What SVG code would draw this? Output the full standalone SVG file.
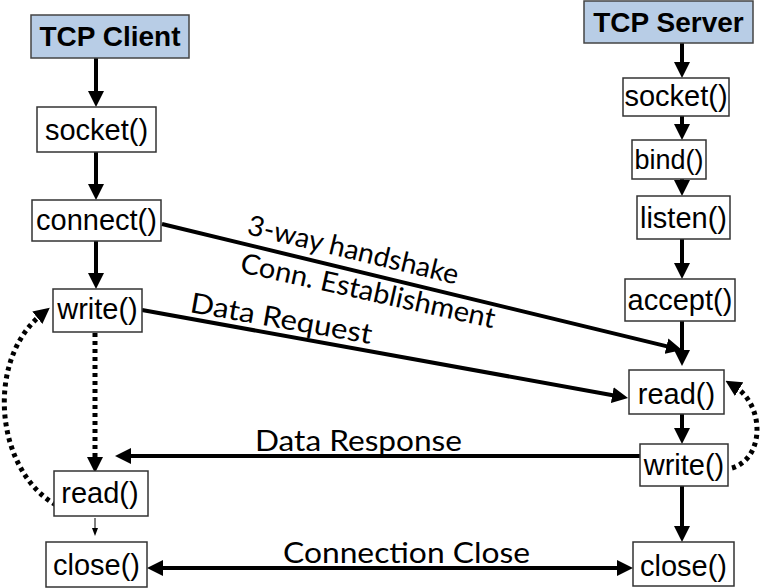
<svg xmlns="http://www.w3.org/2000/svg" width="760" height="588" viewBox="0 0 760 588">
<defs>
<style>
.box{fill:#fff;stroke:#333;stroke-width:1.5}
.hdr{fill:#b8cde6;stroke:#444;stroke-width:1.5}
.t{font-family:"Liberation Sans",Arial,sans-serif;font-size:29px;fill:#000;text-anchor:middle}
.h{font-family:"Liberation Sans",Arial,sans-serif;font-size:28px;font-weight:bold;fill:#000;text-anchor:middle}
.lbl{font-family:Lato,"Open Sans",sans-serif;font-size:28px;fill:#000}
.c{fill:none;stroke:#000;stroke-width:4}
.d{fill:none;stroke:#000;stroke-width:5;stroke-dasharray:4 4}
.thin{fill:none;stroke:#000;stroke-width:1}
</style>
<marker id="ah" markerUnits="userSpaceOnUse" viewBox="0 0 16 16" markerWidth="16" markerHeight="16" refX="6" refY="8" orient="auto-start-reverse"><path d="M0,0 L16,8 L0,16 z" fill="#000"/></marker>
<marker id="ahs" markerUnits="userSpaceOnUse" viewBox="0 0 8 6" markerWidth="8" markerHeight="6" refX="2" refY="3" orient="auto"><path d="M0,0 L8,3 L0,6 z" fill="#000"/></marker>
</defs>

<g id="connectors">
<line class="c" x1="96" y1="58" x2="96" y2="97" marker-end="url(#ah)"/>
<line class="c" x1="96" y1="152" x2="96" y2="190" marker-end="url(#ah)"/>
<line class="c" x1="96" y1="241" x2="96" y2="279" marker-end="url(#ah)"/>
<line class="d" x1="95" y1="333" x2="95" y2="463" marker-end="url(#ah)"/>
<line class="thin" x1="95" y1="518" x2="95" y2="530" marker-end="url(#ahs)"/>
<path class="d" d="M56,505 C-5,470 -15,360 42,314" marker-end="url(#ah)"/>

<line class="c" x1="682" y1="43" x2="682" y2="68" marker-end="url(#ah)"/>
<line class="c" x1="682" y1="116" x2="682" y2="130" marker-end="url(#ah)"/>
<line class="c" x1="682" y1="179" x2="682" y2="186" marker-end="url(#ah)"/>
<line class="c" x1="682" y1="239" x2="682" y2="269" marker-end="url(#ah)"/>
<line class="c" x1="682" y1="321" x2="682" y2="356" marker-end="url(#ah)"/>
<line class="c" x1="682" y1="414" x2="682" y2="434" marker-end="url(#ah)"/>
<line class="c" x1="682" y1="486" x2="682" y2="532" marker-end="url(#ah)"/>
<path class="d" d="M732,468 C765,458 765,405 734,386" marker-end="url(#ah)"/>

<line class="c" x1="162" y1="224" x2="672.3" y2="347.6" marker-end="url(#ah)"/>
<line class="c" x1="142" y1="310" x2="618.2" y2="396.2" marker-end="url(#ah)"/>
<line class="c" x1="640" y1="456" x2="125" y2="456" marker-end="url(#ah)"/>
<line class="c" x1="157" y1="568" x2="623" y2="568" marker-start="url(#ah)" marker-end="url(#ah)"/>
</g>

<g id="client-header"><rect class="hdr" x="31" y="15" width="158" height="43"/><text class="h" x="110" y="46">TCP Client</text></g>
<g id="client-socket"><rect class="box" x="37" y="107" width="119" height="45"/><text class="t" x="96.5" y="140">socket()</text></g>
<g id="client-connect"><rect class="box" x="32" y="200" width="129" height="41"/><text class="t" x="96.5" y="230">connect()</text></g>
<g id="client-write"><rect class="box" x="53" y="289" width="89" height="43"/><text class="t" x="97.5" y="319">write()</text></g>
<g id="client-read"><rect class="box" x="54" y="471" width="94" height="45"/><text class="t" x="100" y="503">read()</text></g>
<g id="client-close"><rect class="box" x="46" y="542" width="101" height="45"/><text class="t" x="96.5" y="575">close()</text></g>

<g id="server-header"><rect class="hdr" x="584" y="1" width="169" height="42"/><text class="h" x="668.5" y="32">TCP Server</text></g>
<g id="server-socket"><rect class="box" x="623" y="78" width="106" height="38"/><text class="t" x="676" y="106">socket()</text></g>
<g id="server-bind"><rect class="box" x="632" y="140" width="74" height="39"/><text class="t" x="669" y="169" style="font-size:27px">bind()</text></g>
<g id="server-listen"><rect class="box" x="637" y="196" width="93" height="43"/><text class="t" x="683.5" y="228">listen()</text></g>
<g id="server-accept"><rect class="box" x="625" y="279" width="110" height="42"/><text class="t" x="680" y="310">accept()</text></g>
<g id="server-read"><rect class="box" x="629" y="370" width="95" height="44"/><text class="t" x="676.5" y="404">read()</text></g>
<g id="server-write"><rect class="box" x="640" y="444" width="88" height="42"/><text class="t" x="684" y="475">write()</text></g>
<g id="server-close"><rect class="box" x="633" y="542" width="101" height="44"/><text class="t" x="683.5" y="576">close()</text></g>

<g id="labels">
<text class="lbl" transform="translate(246,234) rotate(13.5)" textLength="216" lengthAdjust="spacingAndGlyphs">3-way handshake</text>
<text class="lbl" transform="translate(239,272) rotate(12.5)" textLength="260" lengthAdjust="spacingAndGlyphs">Conn. Establishment</text>
<text class="lbl" transform="translate(189,312) rotate(10)" textLength="184" lengthAdjust="spacingAndGlyphs">Data Request</text>
<text class="lbl" x="255" y="451" textLength="207" lengthAdjust="spacingAndGlyphs">Data Response</text>
<text class="lbl" x="283" y="563" textLength="247" lengthAdjust="spacingAndGlyphs">Connection Close</text>
</g>
</svg>
